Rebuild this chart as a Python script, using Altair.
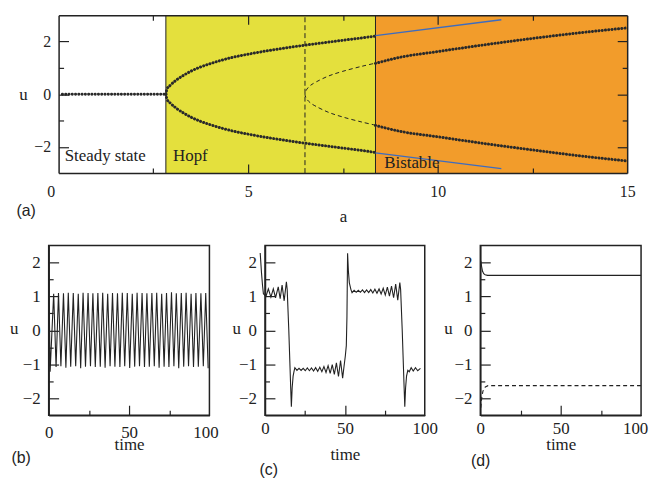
import altair as alt
import pandas as pd

SERIF = "Liberation Serif"
SANS = "Liberation Sans"
INK = "#222222"
DOT = "#2a2a2a"

# ---------------- panel (a): bifurcation diagram ----------------
region_start = [0.0, 2.83, 8.36]
region_end = [2.83, 8.36, 15.0]
region_fill = ["#ffffff", "#e4e03d", "#f29c2b"]
region_label = ["Steady state", "Hopf", "Bistable"]
label_a = [0.16, 3.02, 8.59]
label_u = [-2.55, -2.55, -2.79]

boundary_a = [2.83, 8.36]
onset_a = [6.5]
u_range = [-3.0, 3.0]

steady_a = [0.1, 0.8, 1.5, 2.2, 2.83]
steady_u = [0.0, 0.0, 0.0, 0.0, 0.0]
hopf_a = [2.83, 2.86, 2.94, 3.1, 3.3, 3.5, 3.72, 4.0, 4.59, 5.0, 5.46, 6.0, 6.33, 7.12, 7.5, 8.0, 8.36]
hopf_up = [0.0, 0.2, 0.33, 0.53, 0.72, 0.88, 1.02, 1.16, 1.40, 1.52, 1.64, 1.76, 1.83, 1.98, 2.05, 2.14, 2.21]
hopf_lo = [0.0, -0.2, -0.33, -0.53, -0.72, -0.88, -1.02, -1.16, -1.40, -1.52, -1.64, -1.76, -1.83, -1.98, -2.05, -2.14, -2.22]
bist_a = [8.36, 9.0, 10.0, 11.5, 12.5, 13.66, 15.0]
bist_up = [1.17, 1.40, 1.62, 1.93, 2.12, 2.32, 2.52]
bist_lo = [-1.19, -1.41, -1.62, -1.93, -2.12, -2.33, -2.54]
unst_a = [8.36, 8.0, 7.5, 7.12, 6.8, 6.65, 6.55, 6.5, 6.55, 6.65, 6.8, 7.12, 7.5, 8.0, 8.36]
unst_u = [-1.18, -1.06, -0.87, -0.69, -0.47, -0.34, -0.19, 0.0, 0.19, 0.34, 0.47, 0.69, 0.87, 1.06, 1.18]
blue_a = [8.36, 11.68]
blue_up = [2.23, 2.83]
blue_lo = [-2.23, -2.83]

# ---------------- panel (b): oscillation ----------------
b_start_t = [0.0, 0.9]
b_start_u = [2.0, -1.22]
b_peak_t = [3.1, 6.1, 9.2, 12.2, 15.3, 18.4, 21.4, 24.5, 27.5, 30.6, 33.6, 36.7, 39.7, 42.8, 45.8, 48.9,
            52.0, 55.0, 58.1, 61.1, 64.2, 67.2, 70.3, 73.3, 76.4, 79.4, 82.5, 85.5, 88.6, 91.6, 94.7, 97.7]
b_peak_u = [1.08, 1.10, 1.09, 1.11, 1.10, 1.08, 1.11, 1.10, 1.09, 1.10, 1.11, 1.08, 1.10, 1.09, 1.11, 1.10,
            1.08, 1.11, 1.10, 1.09, 1.10, 1.11, 1.08, 1.10, 1.12, 1.09, 1.10, 1.11, 1.08, 1.10, 1.09, 1.10]
b_trough_t = [4.6, 7.6, 10.7, 13.7, 16.8, 19.9, 22.9, 26.0, 29.0, 32.1, 35.1, 38.2, 41.2, 44.3, 47.3, 50.4,
              53.5, 56.5, 59.6, 62.6, 65.7, 68.7, 71.8, 74.8, 77.9, 80.9, 84.0, 87.0, 90.1, 93.1, 96.2, 99.2]
b_trough_u = [-1.08, -1.06, -1.10, -1.07, -1.06, -1.12, -1.07, -1.06, -1.08, -1.07, -1.10, -1.06, -1.07, -1.08, -1.06, -1.11,
              -1.07, -1.06, -1.08, -1.07, -1.06, -1.10, -1.07, -1.08, -1.06, -1.12, -1.07, -1.06, -1.08, -1.07, -1.06, -1.12]

# ---------------- panel (c): switching ----------------
c_t = [-3.0, -2.2, -1.5, -1.0, 0.6, 2.1, 3.7, 5.2, 6.6, 8.3,
       9.5, 10.7, 12.0, 13.4, 13.9, 14.9, 16.1, 16.5, 17.0, 17.6,
       18.2, 18.7, 20.0, 21.3, 22.6, 23.9, 25.2, 26.5, 27.8, 29.1,
       30.4, 31.7, 33.0, 34.3, 35.6, 36.9, 38.2, 39.5, 40.8, 42.1,
       43.4, 44.7, 46.0, 47.3, 48.6, 49.5, 50.3, 50.9, 51.3, 51.7,
       52.2, 52.8, 53.8, 54.5, 55.8, 57.1, 58.4, 59.7, 61.0, 62.3,
       63.6, 64.9, 66.2, 67.5, 68.8, 70.1, 71.4, 72.7, 74.0, 75.3,
       76.6, 77.9, 79.2, 80.5, 81.8, 83.1, 84.4, 84.9, 85.9, 87.1,
       87.5, 88.0, 88.6, 89.4, 90.3, 91.5, 92.8, 94.2, 95.6, 97.3]
c_u = [2.28, 1.70, 1.30, 1.08, 1.00, 1.22, 0.98, 1.22, 0.96, 1.28,
       0.93, 1.33, 0.87, 1.43, 1.20, 0.00, -1.70, -2.25, -1.70, -1.35,
       -1.20, -1.10, -1.18, -1.12, -1.18, -1.12, -1.19, -1.11, -1.19, -1.11,
       -1.20, -1.10, -1.21, -1.09, -1.22, -1.07, -1.24, -1.04, -1.27, -1.01,
       -1.30, -0.96, -1.36, -0.89, -1.41, -1.05, -0.75, -0.45, 0.40, 2.27,
       1.75, 1.40, 1.20, 1.11, 1.18, 1.12, 1.18, 1.12, 1.19, 1.11,
       1.19, 1.11, 1.20, 1.10, 1.21, 1.09, 1.22, 1.07, 1.24, 1.04,
       1.27, 1.01, 1.30, 0.96, 1.36, 0.89, 1.41, 1.20, 0.00, -1.70,
       -2.25, -1.70, -1.35, -1.18, -1.22, -1.10, -1.20, -1.10, -1.19, -1.12]

# ---------------- panel (d): bistable steady states ----------------
d_solid_t = [0.3, 0.8, 1.4, 2.1, 3.0, 4.5, 100.0]
d_solid_u = [2.05, 1.88, 1.74, 1.67, 1.64, 1.62, 1.62]
d_dash_t = [0.3, 0.9, 1.6, 2.4, 3.4, 4.8, 100.0]
d_dash_u = [-2.28, -1.98, -1.80, -1.70, -1.66, -1.63, -1.63]


def tick_axis(side, values, size, W, H, x0=0, domain=False, **kw):
    orient, off = {"left": ("right", -(W - x0)), "right": ("left", -W),
                   "bottom": ("top", -H), "top": ("bottom", -H)}[side]
    spec = dict(orient=orient, offset=off, values=values, ticks=True, tickSize=size,
                tickColor=INK, tickWidth=1.2, labels=False, domain=domain, grid=False, zindex=1)
    if domain:
        spec.update(domainColor=INK, domainWidth=1.5)
    if "title" in kw:
        spec.update(titleFont=SANS, titleFontSize=16, titleFontWeight="normal", titleColor=INK,
                    titleAlign="left", titleBaseline="alphabetic", titleAngle=0)
    else:
        spec["title"] = None
    spec.update(kw)
    return alt.Axis(**spec)


def text_axis(**kw):
    spec = dict(grid=False, ticks=False, tickSize=0, domain=False, labelFont=SERIF, labelColor=INK,
                titleFont=SERIF, titleColor=INK, titleFontWeight="normal", titleBaseline="alphabetic",
                titleAlign="center", titleAngle=0)
    spec.update(kw)
    return alt.Axis(**spec)


# ---------- build panel (a) ----------
X0A = 10            # plot frame of (a) starts 10px right of the column origin
WA, HA = 583, 159
XA = alt.Scale(domain=[0, 15], range=[X0A, WA], nice=False, zero=False)
YA = alt.Scale(domain=[-3, 3], nice=False, zero=False)

regions_df = pd.DataFrame({"a0": region_start, "a1": region_end, "fill": region_fill,
                           "u0": u_range[0], "u1": u_range[1]})
labels_df = pd.DataFrame({"a": label_a, "u": label_u, "label": region_label})
boundary_df = pd.DataFrame({"a": boundary_a, "u0": u_range[0], "u1": u_range[1]})
onset_df = pd.DataFrame({"a": onset_a, "u0": u_range[0], "u1": u_range[1]})
stable_df = pd.concat([
    pd.DataFrame({"a": steady_a, "u": steady_u, "branch": "steady"}),
    pd.DataFrame({"a": hopf_a, "u": hopf_up, "branch": "hopf_up"}),
    pd.DataFrame({"a": hopf_a, "u": hopf_lo, "branch": "hopf_lo"}),
    pd.DataFrame({"a": bist_a, "u": bist_up, "branch": "bist_up"}),
    pd.DataFrame({"a": bist_a, "u": bist_lo, "branch": "bist_lo"}),
], ignore_index=True)
unst_df = pd.DataFrame({"a": unst_a, "u": unst_u, "idx": list(range(len(unst_a)))})
blue_df = pd.concat([
    pd.DataFrame({"a": blue_a, "u": blue_up, "side": "up"}),
    pd.DataFrame({"a": blue_a, "u": blue_lo, "side": "lo"}),
], ignore_index=True)

main_x_a = text_axis(orient="bottom", values=[5, 10, 15], labelFlush=False, labelPadding=11,
                     labelFontSize=16, title="a", titleFontSize=17,
                     titleX=(X0A + WA) / 2, titleY=49, minExtent=59)
zero_x_a = text_axis(orient="bottom", values=[0], labelFlush=False, labelOffset=-8, labelPadding=11,
                     labelFontSize=16, title="(a)", titleFont=SANS, titleFontSize=16,
                     titleAlign="left", titleX=-33, titleY=43)
main_y_a = text_axis(orient="left", offset=-X0A, values=[-2, 0, 2], labelPadding=8, labelFontSize=16,
                     title="u", titleFontSize=17, titleX=-36, titleY=85)

rect_l = alt.Chart(regions_df).mark_rect().encode(
    x=alt.X("a0:Q", scale=XA, axis=main_x_a), x2="a1:Q",
    y=alt.Y("u0:Q", scale=YA, axis=None), y2="u1:Q",
    color=alt.Color("fill:N", scale=None))
bound_l = alt.Chart(boundary_df).mark_rule(color=INK, strokeWidth=1).encode(
    x=alt.X("a:Q", scale=XA, axis=zero_x_a),
    y=alt.Y("u0:Q", scale=YA, axis=None), y2="u1:Q")
onset_l = alt.Chart(onset_df).mark_rule(color=INK, strokeWidth=1, strokeDash=[5, 3]).encode(
    x=alt.X("a:Q", scale=XA, axis=tick_axis("bottom", [5, 10], 9, WA, HA, domain=True)),
    y=alt.Y("u0:Q", scale=YA, axis=tick_axis("left", [-2, 0, 2], 10, WA, HA, x0=X0A, domain=True)),
    y2="u1:Q")
stable_l = alt.Chart(stable_df).mark_line(
    color=DOT, strokeWidth=3, strokeCap="round", strokeDash=[0.1, 3.2], interpolate="monotone").encode(
    x=alt.X("a:Q", scale=XA, axis=tick_axis("bottom", [2.5, 7.5, 12.5], 5, WA, HA)),
    y=alt.Y("u:Q", scale=YA, axis=main_y_a),
    detail="branch:N")
unst_l = alt.Chart(unst_df).mark_line(
    color=INK, strokeWidth=1, strokeDash=[4, 3], interpolate="catmull-rom").encode(
    x=alt.X("a:Q", scale=XA, axis=tick_axis("top", [5, 10], 9, WA, HA, domain=True)),
    y=alt.Y("u:Q", scale=YA, axis=tick_axis("left", [-1, 1], 5, WA, HA, x0=X0A)),
    order="idx:Q")
blue_l = alt.Chart(blue_df).mark_line(color="#3d6cc0", strokeWidth=1.3).encode(
    x=alt.X("a:Q", scale=XA, axis=tick_axis("top", [2.5, 7.5, 12.5], 5, WA, HA)),
    y=alt.Y("u:Q", scale=YA, axis=tick_axis("right", [-2, 0, 2], 10, WA, HA, domain=True)),
    detail="side:N")
text_l = alt.Chart(labels_df).mark_text(
    align="left", baseline="alphabetic", font=SERIF, fontSize=17, color=INK).encode(
    x=alt.X("a:Q", scale=XA, axis=None),
    y=alt.Y("u:Q", scale=YA, axis=tick_axis("right", [-1, 1], 5, WA, HA)),
    text="label:N")

top = alt.layer(rect_l, bound_l, onset_l, stable_l, unst_l, blue_l, text_l,
                view=alt.ViewBackground(stroke="transparent")).resolve_axis(
    x="independent", y="independent").properties(width=WA, height=HA)


# ---------- bottom panels ----------
def small_panel(series, W, H, u_x, lab_pad, time_y, letter, letter_x, letter_y, last_off):
    XS = alt.Scale(domain=[0, 100], nice=False, zero=False)
    YS = alt.Scale(domain=[-2.5, 2.5], nice=False, zero=False)
    main_x = text_axis(orient="bottom", values=[0, 50], labelFlush=False, labelPadding=lab_pad,
                       labelFontSize=17, title="time", titleFontSize=17, titleX=W / 2, titleY=time_y)
    last_x = text_axis(orient="bottom", values=[100], labelFlush=False, labelOffset=last_off,
                       labelPadding=lab_pad, labelFontSize=17, title=None)
    main_y = text_axis(orient="left", values=[-2, -1, 0, 1, 2], labelPadding=8.5, labelFontSize=17,
                       title="u", titleFontSize=17, titleX=u_x, titleY=88.7, minExtent=40)
    axes = [
        (main_x, main_y),
        (tick_axis("bottom", [50], 10, W, H, domain=True),
         tick_axis("left", [-2, -1, 0, 1, 2], 10, W, H, domain=True)),
        (tick_axis("bottom", [25, 75], 5, W, H, title=letter, titleX=letter_x, titleY=letter_y),
         tick_axis("left", [-1.5, -0.5, 0.5, 1.5], 4.5, W, H)),
        (last_x, None),
    ]
    layers = []
    for i, (xa, ya) in enumerate(axes):
        if i < len(series):
            df, style = series[i]
            ch = alt.Chart(df).mark_line(**style)
        else:
            ch = alt.Chart(series[0][0]).mark_point(opacity=0)
        layers.append(ch.encode(x=alt.X("t:Q", scale=XS, axis=xa),
                                y=alt.Y("u:Q", scale=YS, axis=ya)))
    return alt.layer(*layers).resolve_axis(x="independent", y="independent").properties(
        width=W, height=H)


b_df = pd.concat([
    pd.DataFrame({"t": b_start_t, "u": b_start_u}),
    pd.DataFrame({"t": b_peak_t, "u": b_peak_u}),
    pd.DataFrame({"t": b_trough_t, "u": b_trough_u}),
], ignore_index=True).sort_values("t")
c_df = pd.DataFrame({"t": c_t, "u": c_u})
d_solid_df = pd.DataFrame({"t": d_solid_t, "u": d_solid_u})
d_dash_df = pd.DataFrame({"t": d_dash_t, "u": d_dash_u})

solid = dict(color=INK, strokeWidth=1.1)
dashed = dict(color=INK, strokeWidth=1.1, strokeDash=[4, 3])

HB = 171
pb = small_panel([(b_df, solid)], 162, HB, -35.2, 9.6, 35, "(b)", -38, 47.6, -4)
pc = small_panel([(c_df, solid)], 161, HB, -29, 5.6, 45, "(c)", -6, 59.3, 0)
pd_ = small_panel([(d_solid_df, solid), (d_dash_df, dashed)], 162, HB, -32.7, 5.6, 35, "(d)", -10, 51, -6)

row = alt.hconcat(pb, pc, pd_, spacing=56, bounds="flush")

chart = alt.vconcat(top, row, spacing=12).properties(
    padding={"left": 0, "top": 3.5, "right": 0, "bottom": 0}
).configure(font=SERIF).configure_view(stroke=INK, strokeWidth=1.5)

chart.save("out.html", embed_options={"renderer": "svg", "actions": False})
